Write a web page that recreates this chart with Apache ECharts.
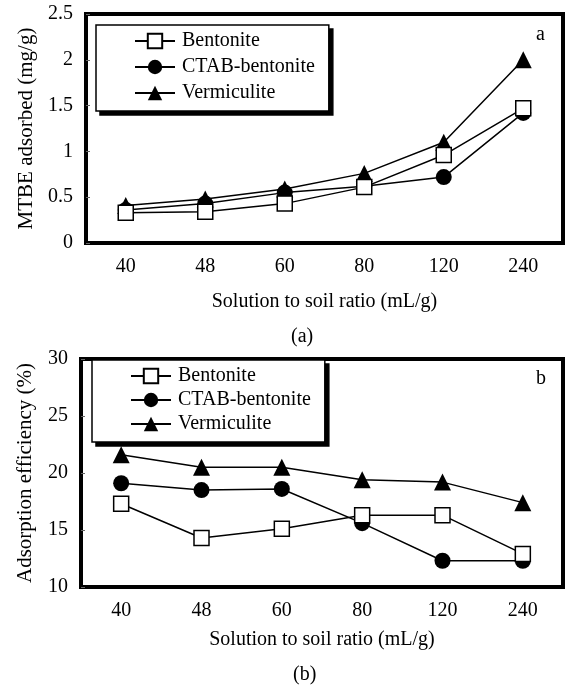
<!DOCTYPE html>
<html>
<head>
<meta charset="utf-8">
<script src="https://cdn.jsdelivr.net/npm/echarts@6/dist/echarts.min.js"></script>
<style>
  html, body { margin: 0; padding: 0; background: #fff; }
  #chart { width: 568px; height: 687px; }
</style>
</head>
<body>
<div id="chart"></div>
<script>
const ratios = ['40', '48', '60', '80', '120', '240']
const seriesNames = ['Bentonite', 'CTAB-bentonite', 'Vermiculite']

// (a) MTBE adsorbed, mg/g
const bentoniteAdsorbed = [0.33, 0.34, 0.43, 0.61, 0.96, 1.47]
const ctabAdsorbed = [0.36, 0.43, 0.55, 0.62, 0.72, 1.42]
const vermiculiteAdsorbed = [0.41, 0.48, 0.59, 0.76, 1.10, 2.00]

// (b) adsorption efficiency, %
const bentoniteEfficiency = [17.3, 14.3, 15.1, 16.3, 16.3, 12.9]
const ctabEfficiency = [19.1, 18.5, 18.6, 15.6, 12.3, 12.3]
const vermiculiteEfficiency = [21.6, 20.5, 20.5, 19.4, 19.2, 17.4]

const FONT = "'Liberation Serif', 'Times New Roman', serif"
const txt = { color: '#000', fontFamily: FONT, fontSize: 20 }

const markers = {
  'Bentonite': { symbol: 'rect', symbolSize: 15, itemStyle: { color: '#fff', borderColor: '#000', borderWidth: 1.5 } },
  'CTAB-bentonite': { symbol: 'circle', symbolSize: 16, itemStyle: { color: '#000' } },
  'Vermiculite': { symbol: 'triangle', symbolSize: 17, itemStyle: { color: '#000' } },
}

function lineSeries(name, data, idx) {
  return {
    name,
    type: 'line',
    xAxisIndex: idx,
    yAxisIndex: idx,
    data,
    ...markers[name],
    showAllSymbol: true,
    lineStyle: { color: '#000', width: 1.5 },
    emphasis: { disabled: true },
    animation: false,
    z: name === 'Bentonite' ? 3 : 2,
  }
}

function xAxis(idx) {
  return {
    type: 'category',
    gridIndex: idx,
    data: ratios,
    name: 'Solution to soil ratio (mL/g)',
    nameLocation: 'middle',
    nameGap: idx === 0 ? 49 : 43,
    nameTextStyle: txt,
    axisLine: { lineStyle: { color: '#000', width: 4 } },
    axisTick: { inside: true, length: 4, lineStyle: { color: '#444', width: 1 } },
    axisLabel: { ...txt, margin: 14 },
    splitLine: { show: false },
  }
}

function yAxis(idx, min, max, interval, name, gap) {
  return {
    type: 'value',
    gridIndex: idx,
    min, max, interval,
    name,
    nameLocation: 'middle',
    nameGap: gap,
    nameTextStyle: { ...txt, fontSize: 21 },
    axisLine: { show: true, lineStyle: { color: '#000', width: 4 } },
    axisTick: { show: true, inside: true, length: 4, lineStyle: { color: '#666', width: 1 } },
    axisLabel: { ...txt, margin: 13 },
    splitLine: { show: false },
  }
}

// legend box; the "shadow" copy is the same legend, blacked out and shifted
function legend(left, top, gap, shadow) {
  const box = {
    orient: 'vertical',
    left: shadow ? left + 4 : left,
    top: shadow ? top + 4 : top,
    data: seriesNames,
    itemWidth: 40,
    itemHeight: 18,
    itemGap: gap,
    padding: [6, 14, 8, 38],
    backgroundColor: shadow ? '#000' : '#fff',
    borderColor: '#000',
    borderWidth: 1.5,
    borderRadius: 0,
    textStyle: { ...txt, padding: [0, 0, 0, 2] },
    selectedMode: false,
    z: shadow ? 1 : 5,
  }
  if (shadow) {
    box.textStyle.color = 'rgba(0,0,0,0)'
    box.itemStyle = { opacity: 0 }
    box.lineStyle = { opacity: 0 }
  }
  return box
}

const chart = echarts.init(document.getElementById('chart'), null, { renderer: 'canvas' })

chart.setOption({
  backgroundColor: '#fff',
  animation: false,
  title: [
    { text: 'a', left: 531, top: 20, textStyle: { ...txt, fontWeight: 'normal' } },
    { text: 'b', left: 531, top: 364, textStyle: { ...txt, fontWeight: 'normal' } },
    { text: '(a)', left: 286, top: 322, textStyle: { ...txt, fontWeight: 'normal' } },
    { text: '(b)', left: 288, top: 660, textStyle: { ...txt, fontWeight: 'normal' } },
  ],
  legend: [
    legend(96, 25, 6, true),
    legend(96, 25, 6, false),
    legend(92, 360, 4, true),
    legend(92, 360, 4, false),
  ],
  grid: [
    { left: 86, right: 5, top: 14, height: 229, show: true, borderColor: '#000', borderWidth: 4, backgroundColor: 'transparent' },
    { left: 81, right: 5, top: 359, height: 228, show: true, borderColor: '#000', borderWidth: 4, backgroundColor: 'transparent' },
  ],
  xAxis: [xAxis(0), xAxis(1)],
  yAxis: [
    yAxis(0, 0, 2.5, 0.5, 'MTBE adsorbed (mg/g)', 47),
    yAxis(1, 10, 30, 5, 'Adsorption efficiency (%)', 45),
  ],
  series: [
    lineSeries('Bentonite', bentoniteAdsorbed, 0),
    lineSeries('CTAB-bentonite', ctabAdsorbed, 0),
    lineSeries('Vermiculite', vermiculiteAdsorbed, 0),
    lineSeries('Bentonite', bentoniteEfficiency, 1),
    lineSeries('CTAB-bentonite', ctabEfficiency, 1),
    lineSeries('Vermiculite', vermiculiteEfficiency, 1),
  ],
})
</script>
</body>
</html>
